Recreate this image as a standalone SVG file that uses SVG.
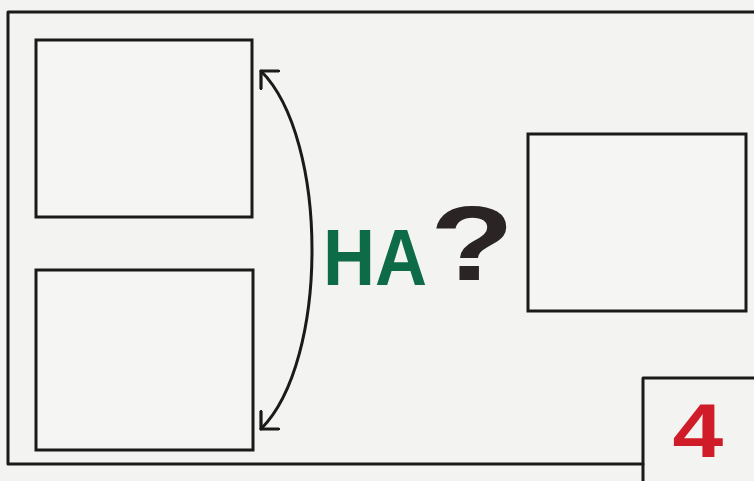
<svg xmlns="http://www.w3.org/2000/svg" width="754" height="481" viewBox="0 0 754 481">
<defs>
<style>
.ln{fill:none;stroke:#1a1a1a;stroke-width:3;stroke-linecap:round;stroke-linejoin:round}
.box{fill:#f5f5f3;stroke:#1a1a1a;stroke-width:3}
</style>
<marker id="ah" viewBox="0 0 16 28" refX="14" refY="14" markerWidth="16" markerHeight="28" markerUnits="userSpaceOnUse" orient="auto-start-reverse">
<path d="M1,1 L14,14 L1,27" fill="none" stroke="#1a1a1a" stroke-width="3.2" stroke-linecap="round" stroke-linejoin="round"/>
</marker>
</defs>
<rect width="754" height="481" fill="#f3f3f1"/>
<g id="frame">
<path class="ln" d="M754,12 L8,12 L8,464 L643,464"/>
</g>
<g id="box1"><rect class="box" x="36" y="40" width="216" height="177"/></g>
<g id="box2"><rect class="box" x="36" y="270" width="217" height="180"/></g>
<g id="box3"><rect class="box" x="528" y="134" width="218" height="177"/></g>
<g id="box4">
<path class="ln" d="M643,481 L643,378 L754,378"/>
<text x="698" y="457" font-family="Liberation Sans, Arial, sans-serif" font-weight="bold" font-size="76" fill="#d01c28" text-anchor="middle" transform="translate(698 0) scale(1.2 1) translate(-698 0)">4</text>
</g>
<g id="connectors">
<path class="ln" d="M261,71 C329,139 329,361 261,429" stroke-width="3.2" marker-start="url(#ah)" marker-end="url(#ah)"/>
</g>
<g id="label">
<text x="323" y="285" font-family="Liberation Sans, Arial, sans-serif" font-weight="bold" font-size="80" fill="#0d6b47" textLength="104" lengthAdjust="spacingAndGlyphs">HA</text>
<text x="472" y="280" font-family="Liberation Sans, Arial, sans-serif" font-weight="900" font-size="106" fill="#2a2424" text-anchor="middle" transform="translate(472 0) scale(1.3 1) translate(-472 0)">?</text>
</g>
</svg>
